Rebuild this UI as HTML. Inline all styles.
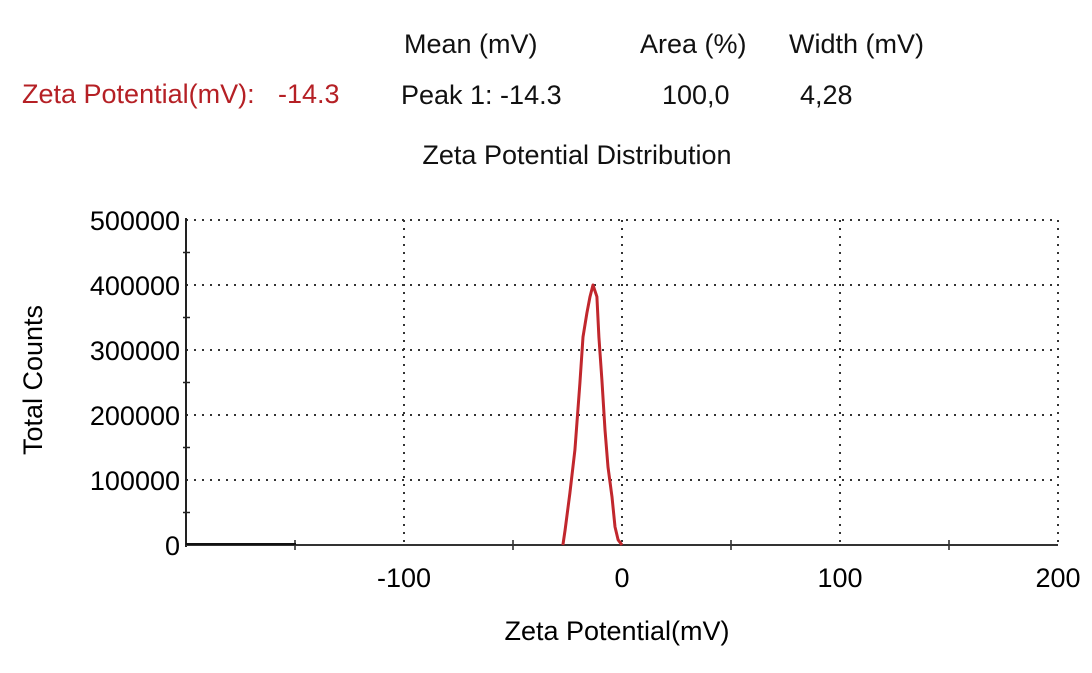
<!DOCTYPE html>
<html><head><meta charset="utf-8"><style>
body{margin:0;background:#fff;width:1092px;height:668px;overflow:hidden;font-family:"Liberation Sans",Arial,sans-serif}
svg text{font-family:"Liberation Sans",Arial,sans-serif}
</style></head><body>
<svg width="1092" height="668">
<g font-size="27" fill="#111">
<text x="404" y="53">Mean (mV)</text>
<text x="640" y="53">Area (%)</text>
<text x="789" y="53">Width (mV)</text>
<text x="22" y="103" fill="#b52025">Zeta Potential(mV):</text>
<text x="278" y="103" fill="#b52025">-14.3</text>
<text x="401" y="104">Peak 1: -14.3</text>
<text x="662" y="104">100,0</text>
<text x="800" y="104">4,28</text>
<text x="577" y="164" text-anchor="middle">Zeta Potential Distribution</text>
</g>
<g id="grid"></g>
<g id="axes"></g>
<path id="series" fill="none" stroke="#c1272d" stroke-width="3" stroke-linejoin="round"/>
<text x="42" y="380" font-size="27" text-anchor="middle" transform="rotate(-90 42 380)">Total Counts</text>
<text x="617" y="640" font-size="27" text-anchor="middle">Zeta Potential(mV)</text>
</svg>
<script>
const xTicks=[-100,0,100,200];
const yTicks=[0,100000,200000,300000,400000,500000];
const zeta=[-27.1,-26.1,-23.9,-21.6,-19.3,-17.9,-16.1,-14.7,-13.3,-11.5,-10.6,-9.2,-7.8,-6.4,-4.6,-3.2,-1.8,0];
const counts=[0,23000,80000,146000,249000,320000,357000,382000,400000,382000,320000,254000,177000,120000,74000,28000,8000,0];
const X=v=>186+(v+200)*2.18;
const Y=v=>545-v*0.00065;
const NS="http://www.w3.org/2000/svg";
const grid=document.getElementById('grid'),axes=document.getElementById('axes');
function mk(tag,attrs,parent){const e=document.createElementNS(NS,tag);for(const k in attrs)e.setAttribute(k,attrs[k]);parent.appendChild(e);return e;}
yTicks.forEach(v=>{
 if(v>0){const l=mk('line',{x1:186,x2:1058,y1:Y(v),y2:Y(v),stroke:'#333','stroke-width':2,'stroke-dasharray':'2 6'},grid);
 
 }
 const t=mk('text',{x:180,y:Y(v)+10,'font-size':27,'text-anchor':'end'},axes);t.textContent=v;
 
 
 const m=mk('line',{x1:183,x2:190,y1:Y(v+50000),y2:Y(v+50000),stroke:'#222','stroke-width':1.5},axes);
 if(v>=500000)m.remove();
});
xTicks.forEach(v=>{
 const l=mk('line',{x1:X(v),x2:X(v),y1:220,y2:545,stroke:'#333','stroke-width':2,'stroke-dasharray':'2 6'},grid);
 
 
 const t=mk('text',{x:X(v),y:587,'font-size':27,'text-anchor':'middle'},axes);t.textContent=v;
 
 
});
[-150,-50,50,150].forEach(v=>mk('line',{x1:X(v),x2:X(v),y1:540,y2:550,stroke:'#222','stroke-width':1.5},axes));
mk('line',{x1:186,x2:186,y1:218,y2:547,stroke:'#222','stroke-width':2},axes);
mk('line',{x1:186,x2:1058,y1:545,y2:545,stroke:'#333','stroke-width':2},axes);
mk('line',{x1:186,x2:296,y1:544,y2:544,stroke:'#111','stroke-width':2},axes);
document.getElementById('series').setAttribute('d',zeta.map((z,i)=>(i?'L':'M')+X(z).toFixed(1)+' '+Y(counts[i]).toFixed(1)).join(' '));
</script>
</body></html>
